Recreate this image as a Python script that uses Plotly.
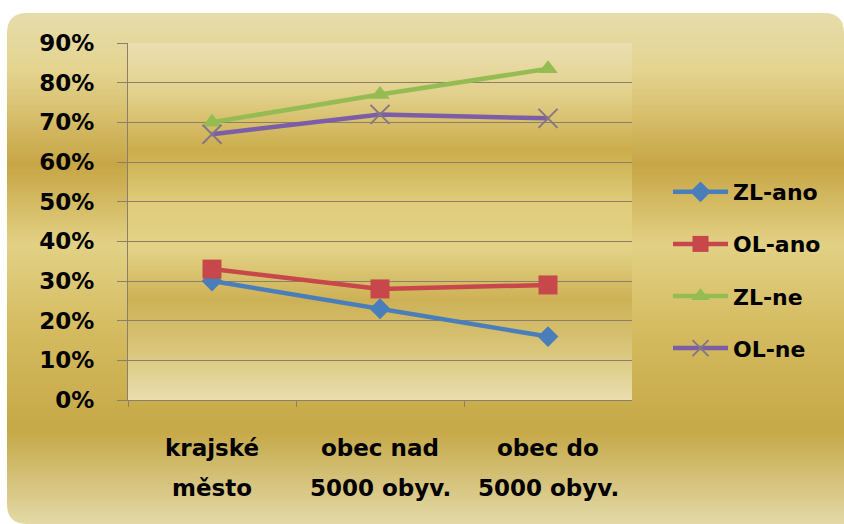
import plotly.graph_objects as go

W, H = 844, 524

# ---------------- data ----------------
categories = ["krajské město", "obec nad 5000 obyv.", "obec do 5000 obyv."]
cat_line1 = ["krajské", "obec nad", "obec do"]
cat_line2 = ["město", "5000 obyv.", "5000 obyv."]
series_names = ["ZL-ano", "OL-ano", "ZL-ne", "OL-ne"]
zl_ano = [0.30, 0.23, 0.16]
ol_ano = [0.33, 0.28, 0.29]
zl_ne = [0.70, 0.77, 0.835]
ol_ne = [0.67, 0.72, 0.71]
y_tick_vals = [0, 0.1, 0.2, 0.3, 0.4, 0.5, 0.6, 0.7, 0.8, 0.9]
y_tick_labels = ["0%", "10%", "20%", "30%", "40%", "50%", "60%", "70%", "80%", "90%"]

# ---------------- styles ----------------
FONT = "DejaVu Sans"
colors = ["#4a7ebb", "#c8474a", "#94bc52", "#7b5ea7"]
symbols = ["diamond", "square", "triangle-up", "x-thin"]
msizes = [16, 19, 17, 19]

# plot area in pixels
PL, PR, PT, PB = 128, 632, 43, 400


def fx(x):
    return x / W


def fy(y):
    return 1 - y / H


def hex2rgb(h):
    h = h.lstrip("#")
    return tuple(int(h[i:i + 2], 16) for i in (0, 2, 4))


def interp(stops, y):
    for (y0, c0), (y1, c1) in zip(stops[:-1], stops[1:]):
        if y0 <= y <= y1:
            t = (y - y0) / (y1 - y0) if y1 > y0 else 0
            a, b = hex2rgb(c0), hex2rgb(c1)
            return "rgb(%d,%d,%d)" % tuple(round(a[i] + (b[i] - a[i]) * t) for i in range(3))
    return stops[-1][1] if y > stops[-1][0] else stops[0][1]


outer_stops = [(13, "#e6dcab"), (70, "#e4d48f"), (165, "#c7a645"), (245, "#e2d185"),
               (330, "#d5bb60"), (430, "#c5a847"), (524, "#e3d9a7")]
inner_stops = [(43, "#eadfb0"), (95, "#e2d08b"), (150, "#cbad4b"), (205, "#e0cd7c"),
               (250, "#e3d286"), (300, "#cdb155"), (350, "#d9c67b"), (400, "#e9deae")]

shapes = []
OX0, OY0, OX1, OY1 = 7, 13, 844, 524
step = 2
y = OY0
while y < OY1:
    shapes.append(dict(type="rect", xref="paper", yref="paper", layer="below",
                       x0=fx(OX0), x1=fx(OX1), y0=fy(y), y1=fy(min(y + step + 0.6, OY1)),
                       fillcolor=interp(outer_stops, y + step / 2), line=dict(width=0)))
    y += step

# rounded-corner masks
R = 20


def corner(cx, cy, dx, dy):
    return dict(type="path", xref="paper", yref="paper", layer="below",
                path="M %f,%f L %f,%f Q %f,%f %f,%f Z" % (
                    fx(cx), fy(cy), fx(cx + dx * R), fy(cy), fx(cx), fy(cy), fx(cx), fy(cy + dy * R)),
                fillcolor="white", line=dict(width=0))


shapes.append(corner(OX0, OY0, 1, 1))
shapes.append(corner(W, OY0, -1, 1))
shapes.append(corner(OX0, H, 1, -1))

y = PT
while y < PB:
    shapes.append(dict(type="rect", xref="paper", yref="paper", layer="below",
                       x0=fx(PL), x1=fx(PR), y0=fy(y), y1=fy(min(y + step + 0.6, PB)),
                       fillcolor=interp(inner_stops, y + step / 2), line=dict(width=0)))
    y += step

fig = go.Figure()
for name, vals, col, sym, ms in zip(series_names, [zl_ano, ol_ano, zl_ne, ol_ne], colors, symbols, msizes):
    marker = dict(symbol=sym, size=ms, color=col)
    if sym == "x-thin":
        marker = dict(symbol=sym, size=ms, color="#857687", line=dict(width=2, color="#857687"))
    fig.add_trace(go.Scatter(x=categories, y=vals, name=name, mode="lines+markers",
                             line=dict(color=col, width=4.5), marker=marker,
                             legendgroup=name, cliponaxis=False))

LBL = dict(family=FONT, size=23, color="black", weight="bold")
annotations = []
for cat, l1, l2 in zip(categories, cat_line1, cat_line2):
    annotations.append(dict(x=cat, xref="x", y=fy(448), yref="paper", text=l1, showarrow=False,
                            font=LBL, xanchor="center", yanchor="middle"))
    annotations.append(dict(x=cat, xref="x", y=fy(488), yref="paper", text=l2, showarrow=False,
                            font=LBL, xanchor="center", yanchor="middle"))

grid_col = "#8c7f6a"
fig.update_layout(
    template="none",
    width=W, height=H, autosize=False,
    margin=dict(l=0, r=0, t=0, b=0, pad=0, autoexpand=False),
    paper_bgcolor="white", plot_bgcolor="rgba(0,0,0,0)",
    shapes=shapes, annotations=annotations,
    font=dict(family=FONT, color="black"),
    xaxis=dict(domain=[fx(PL), fx(PR)], type="category", range=[-0.5, 2.5], automargin=False,
               showgrid=False, showline=True, linecolor=grid_col, linewidth=1.4,
               ticks="outside", tickson="boundaries", ticklen=6, tickcolor=grid_col,
               showticklabels=False, zeroline=False, fixedrange=True),
    yaxis=dict(domain=[fy(PB), fy(PT)], range=[0, 0.9], tickvals=y_tick_vals, ticktext=y_tick_labels,
               automargin=False,
               showgrid=True, gridcolor=grid_col, gridwidth=1.4, showline=True, linecolor=grid_col,
               linewidth=1.4, ticks="outside", ticklen=10, tickcolor=grid_col, zeroline=False,
               ticklabelstandoff=18,
               tickfont=LBL, fixedrange=True),
    legend=dict(x=fx(668), xanchor="left", y=fy(171), yanchor="top",
                bgcolor="rgba(0,0,0,0)", borderwidth=0, tracegroupgap=20.5, itemwidth=55,
                font=dict(family=FONT, size=22, color="black", weight="bold")),
    showlegend=True,
)

fig.write_html("out.html", config={"displayModeBar": False},
               post_script="document.body.style.margin='0';document.body.style.padding='0';"
                           "document.body.style.overflow='hidden';")
